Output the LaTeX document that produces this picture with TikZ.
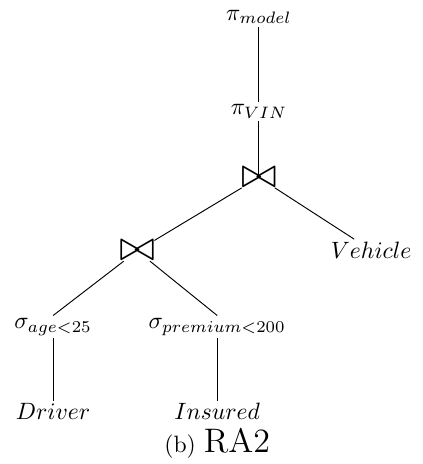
\documentclass[tikz,border=0pt]{standalone}
\usepackage{amsmath}
\usepackage{amssymb}
\usepackage{graphicx}
\usetikzlibrary{positioning}

\begin{document}
\begin{tikzpicture}[op/.style={inner sep=1pt}, joinop/.style={inner sep=0pt}]
    \useasboundingbox (0, 0) rectangle (6.29, -6.90);
    \node[op] (pimodel) at (3.85, -0.25) {$\pi_{model}$};
    \node[op] (pivin) at (3.85, -1.66) {$\pi_{VIN}$};
    \node[joinop] (jtop) at (3.85, -2.64) {\scalebox{1.8}{$\bowtie$}};
    \node[joinop] (jleft) at (2.04, -3.73) {\scalebox{1.8}{$\bowtie$}};
    \node[op] (vehicle) at (5.52, -3.72) {$Vehicle$};
    \node[op] (sage) at (0.79, -4.86) {$\sigma_{age<25}$};
    \node[op] (sprem) at (3.23, -4.86) {$\sigma_{premium<200}$};
    \node[op] (driver) at (0.79, -6.12) {$Driver$};
    \node[op] (insured) at (3.23, -6.12) {$Insured$};
    \node (caption) at (3.23, -6.59) {(b) {\Large RA2}};
    
    \draw (pimodel) -- (pivin);
    \draw (pivin) -- (jtop.center);
    \draw (jtop) -- (jleft);
    \draw (jtop) -- (vehicle);
    \draw (jleft) -- (sage.north);
    \draw (jleft) -- (sprem.north);
    \draw (sage.south) -- (driver);
    \draw (sprem.south) -- (insured);
\end{tikzpicture}
\end{document}
